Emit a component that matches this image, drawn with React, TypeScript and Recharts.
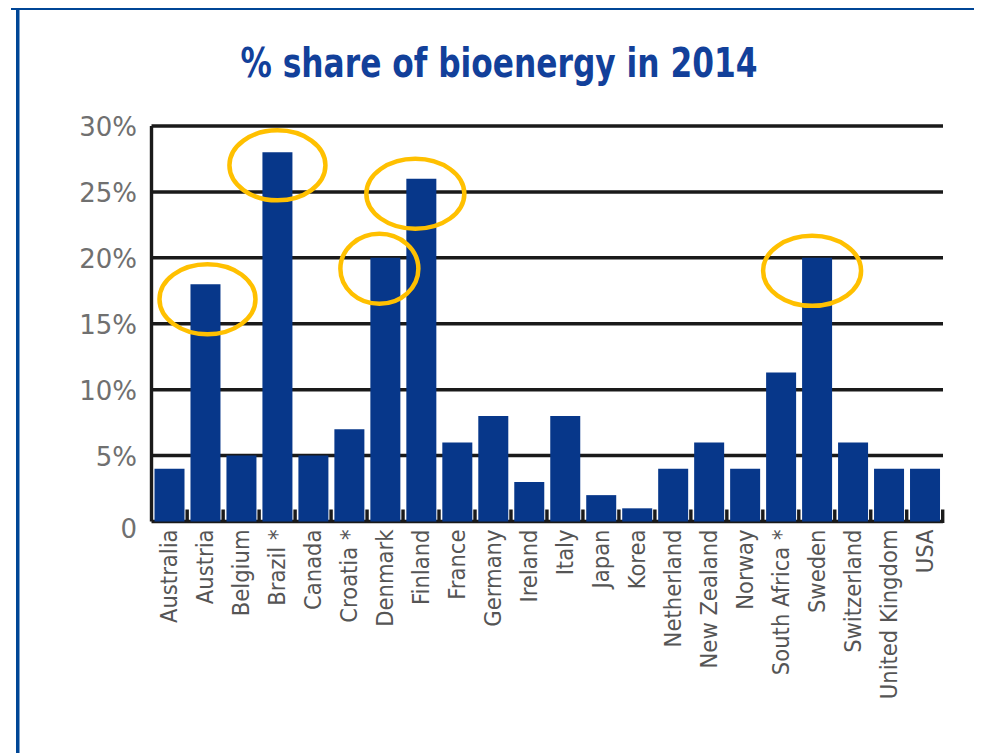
import React from "react";
import { BarChart, Bar, XAxis, YAxis, CartesianGrid, LabelList } from "recharts";

const countries = [
  "Australia",
  "Austria",
  "Belgium",
  "Brazil *",
  "Canada",
  "Croatia *",
  "Denmark",
  "Finland",
  "France",
  "Germany",
  "Ireland",
  "Italy",
  "Japan",
  "Korea",
  "Netherland",
  "New Zealand",
  "Norway",
  "South Africa *",
  "Sweden",
  "Switzerland",
  "United Kingdom",
  "USA",
];

const shares = [4, 18, 5, 28, 5, 7, 20, 26, 6, 8, 3, 8, 2, 1, 4, 6, 4, 11.3, 20, 6, 4, 4];

const yTicks = [0, 5, 10, 15, 20, 25, 30];

// countries that get the yellow ring
const circled = ["Austria", "Brazil *", "Denmark", "Finland", "Sweden"];

const data = countries.map((name, i) => ({ name, share: shares[i] }));

// ring look: [shift x, shift y, radius x] relative to the top of the bar
const ringLook: Record<string, [number, number, number]> = {
  Austria: [2, 15, 48],
  "Brazil *": [0, 13, 48],
  Denmark: [-6, 11, 39],
  Finland: [-6, 15, 49],
  Sweden: [-5, 13, 49],
};

const BLUE = "#07378a";
const INK = "#1a1a1a";
const condensed = "'DejaVu Sans Condensed', 'DejaVu Sans', sans-serif";

const Ring = (props: any) => {
  const { x, y, width, value } = props;
  if (!circled.includes(value)) return null;
  const [dx, dy, rx] = ringLook[value] ?? [0, 14, 48];
  return (
    <ellipse
      cx={Number(x) + Number(width) / 2 + dx}
      cy={Number(y) + dy}
      rx={rx}
      ry={35}
      fill="none"
      stroke="#ffc000"
      strokeWidth={4.5}
    />
  );
};

const CountryTick = (props: any) => {
  const { x, y, payload } = props;
  const half = payload?.offset || 18;
  return (
    <g>
      <rect x={x + half - 2} y={y - 12} width={3.4} height={13.5} fill={INK} />
      <text
        transform={`translate(${x},${y + 8}) rotate(-90)`}
        textAnchor="end"
        dominantBaseline="central"
        fontFamily={condensed}
        fontSize={23.5}
        fill="#555"
      >
        {payload.value}
      </text>
    </g>
  );
};

const ShareTick = (props: any) => {
  const { x, y, payload } = props;
  const v = payload.value;
  return (
    <text
      x={x}
      y={y + (v === 0 ? 7 : 1)}
      textAnchor="end"
      dominantBaseline="central"
      fontFamily="'DejaVu Sans', sans-serif"
      fontSize={26}
      fill="#707070"
    >
      {v === 0 ? "0" : `${v}%`}
    </text>
  );
};

export default function App() {
  return (
    <div
      style={{
        position: "relative",
        width: 982,
        height: 753,
        margin: "-8px 0 0 -8px",
        background: "#fff",
        overflow: "hidden",
      }}
    >
      <BarChart
        width={982}
        height={753}
        data={data}
        margin={{ top: 126, right: 39, left: 0, bottom: 31.5 }}
      >
        <CartesianGrid vertical={false} stroke={INK} strokeWidth={3.5} />
        <XAxis
          dataKey="name"
          interval={0}
          height={200}
          axisLine={false}
          tickLine={false}
          tickSize={0}
          tickMargin={0}
          tick={CountryTick}
        />
        <YAxis
          width={151.5}
          domain={[0, 30]}
          ticks={yTicks}
          axisLine={{ stroke: INK, strokeWidth: 3.4 }}
          tickLine={false}
          tickSize={0}
          tickMargin={14.5}
          tick={ShareTick}
        />
        <Bar dataKey="share" fill={BLUE} barSize={30} isAnimationActive={false}>
          <LabelList dataKey="name" content={Ring} />
        </Bar>
      </BarChart>
      <svg
        width={982}
        height={753}
        style={{ position: "absolute", left: 0, top: 0, pointerEvents: "none" }}
      >
        <rect x={11} y={6} width={971} height={4} fill="#004696" />
        <rect x={16} y={6} width={3.5} height={747} fill="#004696" />
        <text
          x={499}
          y={77}
          textAnchor="middle"
          fontFamily={condensed}
          fontWeight="bold"
          fontSize={40}
          textLength={517}
          lengthAdjust="spacingAndGlyphs"
          fill="#12409a"
        >
          % share of bioenergy in 2014
        </text>
      </svg>
    </div>
  );
}
